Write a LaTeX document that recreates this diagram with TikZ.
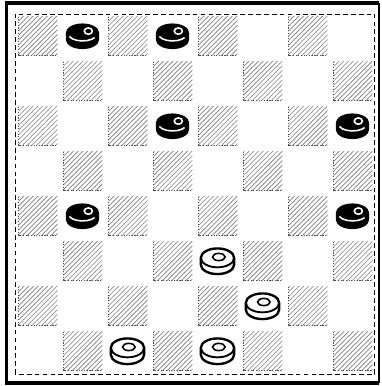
\documentclass[tikz,border=0pt]{standalone}
\usepackage{tikz}
\usetikzlibrary{patterns}
\tikzset{
  frame/.style={line width=2pt},
  rim/.style={densely dashed,line width=0.6pt},
  hatch/.style={pattern=north east lines,pattern color=black!50},
  edge/.style={densely dotted,line width=0.7pt,black!70},
  blk/.pic={
    \fill (-0.37,0.08) -- (-0.37,-0.07) arc[start angle=180,end angle=360,x radius=0.37,y radius=0.21]
      -- (0.37,0.08) arc[start angle=0,end angle=180,x radius=0.37,y radius=0.21] -- cycle;
    \draw[white,line width=1pt] (-0.29,0) arc[start angle=200,end angle=330,x radius=0.31,y radius=0.15];
    \draw[white,line width=1pt] (0.13,0.12) ellipse[x radius=0.09,y radius=0.07];
  },
  wht/.pic={
    \filldraw[fill=white,line width=1.5pt] (-0.37,0.08) -- (-0.37,-0.07) arc[start angle=180,end angle=360,x radius=0.37,y radius=0.21]
      -- (0.37,0.08) arc[start angle=0,end angle=180,x radius=0.37,y radius=0.21] -- cycle;
    \draw[line width=1.2pt] (-0.37,0.08) arc[start angle=180,end angle=360,x radius=0.37,y radius=0.21];
    \draw[line width=1pt] (0.03,0.1) ellipse[x radius=0.14,y radius=0.08];
  }
}
\begin{document}
\begin{tikzpicture}
\useasboundingbox (-0.333,-0.267) rectangle (8.156,8.311);
% outer frame and board edge
\draw[frame] (8.09,8.244) -- (-0.18,8.244) -- (-0.18,-0.2) -- (8.09,-0.2);
\draw[line width=0.8pt] (8.09,8.244) -- (8.09,-0.2);
\draw[rim] (0,0) rectangle (8,8);
% hatched squares
\foreach \r in {0,...,7}
  \foreach \c in {0,...,7}{
    \pgfmathtruncatemacro\parity{mod(\r+\c,2)}
    \ifnum\parity=0
      \fill[hatch] (\c+0.08,7.08-\r) rectangle (\c+0.94,7.94-\r);
      \draw[edge] (\c+0.08,7.94-\r) -- (\c+0.08,7.08-\r) -- (\c+0.94,7.08-\r);
    \fi
  }
% black men
\foreach \c/\r in {1/0,3/0,3/2,7/2,1/4,7/4}
  \pic at (\c+0.5,7.5-\r) {blk};
% white men
\foreach \c/\r in {4/5,5/6,2/7,4/7}
  \pic at (\c+0.5,7.5-\r) {wht};
\end{tikzpicture}
\end{document}
